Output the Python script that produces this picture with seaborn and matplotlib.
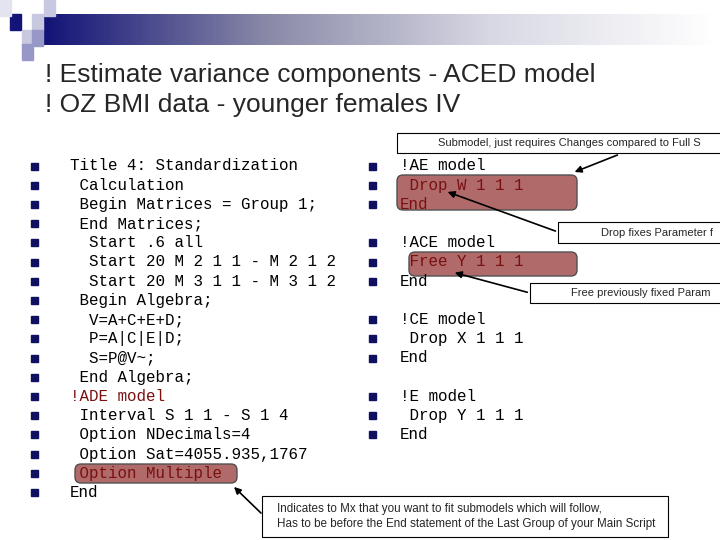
import matplotlib
matplotlib.use("Agg")
import matplotlib.pyplot as plt
import seaborn as sns
import numpy as np
from matplotlib.patches import FancyBboxPatch, Rectangle

sns.set_style("white")

title_lines = ["! Estimate variance components - ACED model",
               "! OZ BMI data - younger females IV"]
left_lines = ["Title 4: Standardization", " Calculation", " Begin Matrices = Group 1;",
              " End Matrices;", "  Start .6 all", "  Start 20 M 2 1 1 - M 2 1 2",
              "  Start 20 M 3 1 1 - M 3 1 2", " Begin Algebra;", "  V=A+C+E+D;",
              "  P=A|C|E|D;", "  S=P@V~;", " End Algebra;", "!ADE model",
              " Interval S 1 1 - S 1 4", " Option NDecimals=4", " Option Sat=4055.935,1767",
              " Option Multiple", "End"]
left_red = [12, 16]
right_groups = [["!AE model", " Drop W 1 1 1", "End"],
                ["!ACE model", " Free Y 1 1 1", "End"],
                ["!CE model", " Drop X 1 1 1", "End"],
                ["!E model", " Drop Y 1 1 1", "End"]]
right_red = [(0, 1), (0, 2), (1, 1)]
notes = ["Submodel, just requires Changes compared to Full S",
         "Drop fixes Parameter f",
         "Free previously fixed Param",
         "Indicates to Mx that you want to fit submodels which will follow,\nHas to be before the End statement of the Last Group of your Main Script"]

fig = plt.figure(figsize=(7.2, 5.4), dpi=100)
ax = fig.add_axes([0, 0, 1, 1])
ax.set_xlim(0, 720); ax.set_ylim(540, 0); ax.axis("off")

# header decoration
grad = np.linspace(0, 1, 300)[None, :]
cmap = matplotlib.colors.LinearSegmentedColormap.from_list("g", ["#141478", "#8a8aa8", "#d8d8e4", "#ffffff"])
ax.imshow(grad, cmap=cmap, extent=[44, 715, 45, 14], aspect="auto", zorder=1)
for (x, y, c) in [(10, 14, "#141478"), (32, 14, "#c8c8e0"), (44, 0, "#c8c8e0"), (22, 30, "#c8c8e0"),
                  (32, 30, "#9898c8"), (22, 44, "#9898c8"), (0, 0, "#e4e4f0")]:
    ax.add_patch(Rectangle((x, y), 11, 16, color=c, zorder=2))

for i, t in enumerate(title_lines):
    ax.text(45, 75 + 30 * i, t, fontsize=19, family="Liberation Sans", va="center")

mono = "Liberation Mono"
navy = "#101060"
dred = "#7a1010"
dy = 19.2

def hl(x0, y0, x1, y1):
    ax.add_patch(FancyBboxPatch((x0, y0), x1 - x0, y1 - y0, boxstyle="round,pad=0,rounding_size=6",
                                fc="#b06a6a", ec="#505050", lw=1, zorder=1))
hl(75, 464, 237, 483)
hl(397, 175, 577, 210)
hl(409, 252, 577, 276)

for i, t in enumerate(left_lines):
    y = 166 + dy * i
    ax.add_patch(Rectangle((31, y - 3.5), 7, 7, color=navy, zorder=3))
    ax.text(70, y, t, fontsize=11.4, family=mono, va="center",
            color=dred if i in left_red else "black", zorder=3)

for g, grp in enumerate(right_groups):
    for j, t in enumerate(grp):
        y = 166 + dy * (4 * g + j)
        ax.add_patch(Rectangle((369, y - 3.5), 7, 7, color=navy, zorder=3))
        ax.text(400, y, t, fontsize=11.4, family=mono, va="center",
                color=dred if (g, j) in right_red else "black", zorder=3)

def box(x0, y0, x1, y1, text, tx, size=8.2):
    ax.add_patch(Rectangle((x0, y0), x1 - x0, y1 - y0, fc="white", ec="black", lw=0.8, zorder=4))
    ax.text(tx, (y0 + y1) / 2, text, fontsize=size, family="Liberation Sans", va="center",
            zorder=5, clip_on=True, linespacing=1.3)

box(397, 133, 722, 153, notes[0], 438, 8)
box(558, 222, 722, 243, notes[1], 601, 8)
box(530, 283, 722, 303, notes[2], 571, 8)
box(262, 496, 668, 537, notes[3], 277, 8.4)

def arrow(x0, y0, x1, y1):
    ax.annotate("", xy=(x1, y1), xytext=(x0, y0),
                arrowprops=dict(arrowstyle="-|>", color="black", lw=1.2, mutation_scale=10), zorder=6)
arrow(620, 154, 572, 173)
arrow(558, 232, 445, 191)
arrow(530, 293, 452, 272)
arrow(263, 515, 232, 485)

fig.savefig("out.png", dpi=100)
